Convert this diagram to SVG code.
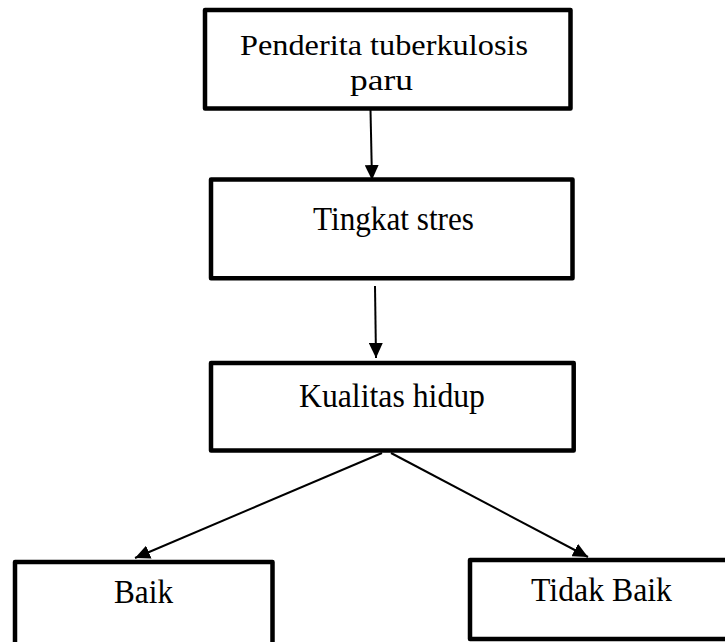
<svg xmlns="http://www.w3.org/2000/svg" width="725" height="642" viewBox="0 0 725 642">
  <defs>
    <style>
      .box { fill: #ffffff; stroke: #000000; stroke-width: 4.5; stroke-linejoin: round; }
      .lbl { font-family: "Liberation Serif", "Times New Roman", serif; font-size: 34px; fill: #000000; }
      .lbl2 { font-size: 30px; }
      .conn { stroke: #000000; stroke-width: 2; fill: none; marker-end: url(#arrow); }
    </style>
    <marker id="arrow" markerUnits="userSpaceOnUse" markerWidth="15" markerHeight="14" refX="15" refY="7" orient="auto">
      <path d="M0,0 L15,7 L0,14 z" fill="#000000"/>
    </marker>
  </defs>
  <rect width="725" height="642" fill="#ffffff"/>

  <g id="connectors">
    <line class="conn" x1="370.5" y1="110" x2="372" y2="180"/>
    <line class="conn" x1="375" y1="286" x2="376" y2="358"/>
    <line class="conn" x1="382" y1="453" x2="135" y2="558"/>
    <line class="conn" x1="391" y1="453" x2="588" y2="557"/>
  </g>

  <g id="node-penderita">
    <rect class="box" x="205" y="10" width="365.5" height="98.5"/>
    <text class="lbl lbl2" x="240" y="55" textLength="288" lengthAdjust="spacingAndGlyphs">Penderita tuberkulosis</text>
    <text class="lbl lbl2" x="350" y="89.5" textLength="63" lengthAdjust="spacingAndGlyphs">paru</text>
  </g>

  <g id="node-stres">
    <rect class="box" x="211" y="179.5" width="361.5" height="98.8"/>
    <text class="lbl" x="313" y="230" textLength="161" lengthAdjust="spacingAndGlyphs">Tingkat stres</text>
  </g>

  <g id="node-kualitas">
    <rect class="box" x="211" y="363" width="362.7" height="87.5"/>
    <text class="lbl" x="299" y="406.5" textLength="186" lengthAdjust="spacingAndGlyphs">Kualitas hidup</text>
  </g>

  <g id="node-baik">
    <rect class="box" x="15" y="562" width="257.5" height="100"/>
    <text class="lbl" x="114" y="603" textLength="59" lengthAdjust="spacingAndGlyphs">Baik</text>
  </g>

  <g id="node-tidak-baik">
    <rect class="box" x="470" y="560" width="280" height="79"/>
    <text class="lbl" x="531" y="601" textLength="141" lengthAdjust="spacingAndGlyphs">Tidak Baik</text>
  </g>
</svg>
